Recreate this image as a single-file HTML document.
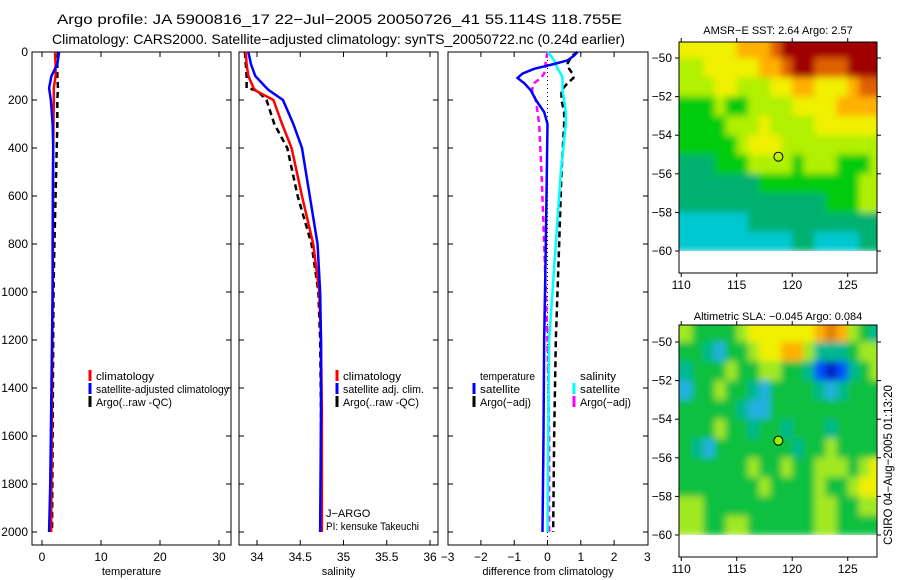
<!DOCTYPE html>
<html><head><meta charset="utf-8"><style>
body{margin:0;background:#fff}
svg{display:block;font-family:"Liberation Sans",sans-serif}
</style></head><body>
<svg id="s" width="900" height="580" viewBox="0 0 900 580">
<defs><filter id="blur" x="-5%" y="-5%" width="110%" height="110%"><feGaussianBlur stdDeviation="3.5"/></filter></defs>
<text x="57" y="24" font-size="14" textLength="565" lengthAdjust="spacingAndGlyphs">Argo profile: JA 5900816_17 22−Jul−2005 20050726_41 55.114S 118.755E</text>
<text x="52" y="44" font-size="14" textLength="573" lengthAdjust="spacingAndGlyphs">Climatology: CARS2000. Satellite−adjusted climatology: synTS_20050722.nc (0.24d earlier)</text>
<text x="778" y="34" font-size="11" text-anchor="middle">AMSR−E SST: 2.64 Argo: 2.57</text>
<text x="778" y="320" font-size="11" text-anchor="middle">Altimetric SLA: −0.045 Argo: 0.084</text>
<text transform="translate(892,465) rotate(-90)" font-size="11.5" text-anchor="middle">CSIRO 04−Aug−2005 01:13:20</text>
</svg>
<script>
// ---- data ----
const tDepth=[0,50,100,150,200,300,400,600,800,1000,1200,1400,1600,1800,2000];
const tClim=[2.2,2.3,2.3,2.0,2.0,1.95,1.9,1.85,1.85,1.8,1.75,1.7,1.65,1.6,1.55];
const tSat=[2.9,2.6,1.6,1.2,1.5,1.8,1.9,1.85,1.8,1.8,1.7,1.6,1.5,1.4,1.2];
const tArgo=[2.7,2.6,2.6,2.7,2.6,2.6,2.5,2.3,2.1,1.95,1.9,1.85,1.8,1.75,1.7];
const sDepth=[0,50,100,150,160,200,300,400,600,800,1000,1200,1500,2000];
const sClim=[33.87,33.88,33.9,33.96,33.98,34.19,34.29,34.4,34.52,34.65,34.72,34.74,34.75,34.75];
const sSat=[33.9,33.93,33.98,34.11,34.14,34.3,34.42,34.52,34.61,34.7,34.73,34.74,34.74,34.73];
const sArgo=[33.86,33.87,33.88,33.88,34.0,34.11,34.2,34.35,34.47,34.63,34.71,34.73,34.74,34.74];
const dDepth=[0,15,35,50,70,90,108,130,160,200,250,300,500,800,1200,1600,2000];
const dTempSat=[0.9,0.8,0.6,0.2,-0.4,-0.75,-0.9,-0.7,-0.5,-0.35,-0.1,0,-0.02,-0.05,-0.1,-0.12,-0.15];
const dTempArgo=[0.9,0.75,0.65,0.6,0.65,0.75,0.78,0.6,0.42,0.42,0.5,0.5,0.42,0.35,0.25,0.2,0.17];
const dSalSat=[0,0.1,0.2,0.25,0.3,0.4,0.45,0.45,0.45,0.5,0.55,0.55,0.4,0.25,0.05,0.02,0];
const dSalArgo=[0,-0.02,-0.05,-0.06,-0.07,-0.1,-0.2,-0.4,-0.47,-0.35,-0.3,-0.25,-0.18,-0.1,0,0.05,0.05];
const mapLon=[110,111,112,113,114,115,116,117,118,119,120,121,122,123,124,125,126,127];
const mapLat=[-49,-50,-51,-52,-53,-54,-55,-56,-57,-58,-59];
const sstGrid=[
[7,7,7,7,7,8,8,8,9,10,10,10,10,10,10,10,10,10],
[6,6,7,7,7,7,7,8,8,9,10,10,9,9,9,10,10,10],
[6,6,6,7,7,6,6,6,7,7,8,8,7,7,7,8,9,9],
[5,5,5,6,5,5,6,6,6,6,7,7,7,7,8,8,8,8],
[5,5,5,5,6,6,6,7,6,6,6,6,7,7,7,7,7,7],
[5,5,5,5,5,6,7,7,7,6,6,6,6,6,6,6,6,6],
[4,4,4,5,5,5,6,6,6,6,5,6,6,6,5,5,5,6],
[4,4,4,4,4,4,4,5,5,5,5,5,5,5,5,5,6,6],
[4,4,4,4,4,4,4,4,4,4,4,4,4,5,5,5,6,6],
[3,3,3,3,3,3,4,4,4,4,4,4,4,4,4,4,4,4],
[3,3,3,3,3,3,3,3,3,3,4,4,3,3,3,3,4,4]];
const slaGrid=[
[6,5,5,5,5,6,7,7,7,7,7,7,8,9,8,6,5,4],
[5,5,4,3,5,5,6,7,7,8,8,6,4,4,4,5,6,6],
[4,5,5,5,6,5,5,6,6,5,5,4,2,1,2,4,5,6],
[3,5,5,6,5,5,4,3,5,5,5,5,4,3,4,5,5,5],
[5,5,5,5,5,4,3,3,5,5,5,5,5,5,5,5,5,5],
[5,5,5,6,5,5,4,5,5,4,5,5,5,4,5,5,5,5],
[5,4,3,5,5,5,5,5,5,5,4,5,5,6,5,5,5,5],
[5,5,5,5,5,5,6,5,5,6,5,5,6,6,6,5,6,7],
[5,5,5,5,5,5,5,6,5,5,5,5,6,5,5,6,7,7],
[6,6,5,5,5,5,5,5,5,5,5,5,6,6,5,5,6,6],
[6,6,5,5,6,6,5,5,5,5,5,5,6,6,5,5,5,5]];
const floatPos=[118.755,-55.114];
const depthTicks=[0,200,400,600,800,1000,1200,1400,1600,1800,2000];
const tTicks=[0,10,20,30];
const sTicks=[34,34.5,35,35.5,36];
const sTickLabels=["34","34.5","35","35.5","36"];
const dTicks=[-3,-2,-1,0,1,2,3];
const lonTicks=[110,115,120,125];
const latTicks=[-50,-52,-54,-56,-58,-60];
const palette=["#00008f","#0000ff","#0060ff","#00c8d0","#00b070","#00cc10","#b0f000","#f0f000","#ffb000","#e06000","#a00000"];
const slaPalette=["#00008f","#0020c0","#0050ff","#20b0e0","#00b890","#10c040","#a0e820","#f0f000","#ffb000","#e08000","#a00000"];

const S=document.getElementById('s');const NS="http://www.w3.org/2000/svg";
function mk(t,a,p){const e=document.createElementNS(NS,t);for(const k in a)e.setAttribute(k,a[k]);(p||S).appendChild(e);return e;}
const yD=d=>52+d*0.24;
function panel(name,x0,x1,fx,ticks,labels,xlabel,showY){
  const g=mk('g',{});
  
  
  mk('rect',{x:x0,y:52,width:x1-x0,height:493,fill:'none',stroke:'#000','stroke-width':1},g);
  ticks.forEach((v,i)=>{const x=fx(v);
    if(x>x0+1&&x<x1-1){mk('line',{x1:x,y1:545,x2:x,y2:540,stroke:'#000'},g);mk('line',{x1:x,y1:52,x2:x,y2:57,stroke:'#000'},g);}
    const t=mk('text',{x:x,y:561,'font-size':12,'text-anchor':'middle'},g);t.textContent=labels[i];
    });
  depthTicks.forEach(d=>{const y=yD(d);
    mk('line',{x1:x0,y1:y,x2:x0+5,y2:y,stroke:'#000'},g);mk('line',{x1:x1,y1:y,x2:x1-5,y2:y,stroke:'#000'},g);
    if(showY){const t=mk('text',{x:x0-4,y:y+4,'font-size':12,'text-anchor':'end'},g);t.textContent=d;
    }});
  const xl=mk('text',{x:(x0+x1)/2,y:575,'font-size':11,'text-anchor':'middle'},g);xl.textContent=xlabel;
  
  return g;}
function line(g,name,depths,vals,fx,color,dash,w){
  const p=mk('polyline',{points:depths.map((d,i)=>fx(vals[i])+','+yD(d)).join(' '),fill:'none',stroke:color,'stroke-width':w||2.5,'stroke-dasharray':dash||'none'},g);
  }
function legend(g,x,y,color,text,len){
  if(color){const l=mk('line',{x1:x,y1:y-10,x2:x,y2:y+1,stroke:color,'stroke-width':3},g);}
  const a={x:x+6,y:y,'font-size':11};
  if(len){a.textLength=len;a.lengthAdjust='spacingAndGlyphs';}
  const t=mk('text',a,g);t.textContent=text;
  }
// temperature
const fT=v=>42+v*5.9;
const g1=panel('temperature-panel',32,231,fT,tTicks,tTicks.map(String),'temperature',true);
line(g1,'temp-argo-line',tDepth,tArgo,fT,'#000','6,4');
line(g1,'temp-climatology-line',tDepth,tClim,fT,'#f00');
line(g1,'temp-satellite-line',tDepth,tSat,fT,'#00f');
legend(g1,90,380,'#f00','climatology',58);legend(g1,90,393,'#00f','satellite-adjusted climatology',133);legend(g1,90,406,'#000','Argo(..raw -QC)',76);
// salinity
const fS=v=>257+(v-34)*86.5;
const g2=panel('salinity-panel',239,438,fS,sTicks,sTickLabels,'salinity',false);
line(g2,'sal-argo-line',sDepth,sArgo,fS,'#000','6,4');
line(g2,'sal-climatology-line',sDepth,sClim,fS,'#f00');
line(g2,'sal-satellite-line',sDepth,sSat,fS,'#00f');
legend(g2,337,380,'#f00','climatology',58);legend(g2,337,393,'#00f','satellite adj. clim.',81);legend(g2,337,406,'#000','Argo(..raw -QC)',76);
legend(g2,320,517,null,'J−ARGO');legend(g2,320,530,null,'PI: kensuke Takeuchi',93);
// difference
const fD=v=>547.5+v*33.3;
const g3=panel('difference-panel',448,648,fD,dTicks,dTicks.map(v=>v<0?'−'+(-v):String(v)),'difference from climatology',false);
const z=mk('line',{x1:fD(0),y1:52,x2:fD(0),y2:545,stroke:'#000','stroke-dasharray':'1,3'},g3);
line(g3,'temp-argo-diff-line',dDepth,dTempArgo,fD,'#000','6,4');
line(g3,'sal-argo-diff-line',dDepth,dSalArgo,fD,'#f0f','6,4');
line(g3,'sal-satellite-diff-line',dDepth,dSalSat,fD,'#0ff');
line(g3,'temp-satellite-diff-line',dDepth,dTempSat,fD,'#00f');
legend(g3,474,380,null,'temperature',55);legend(g3,474,393,'#00f','satellite',40);legend(g3,474,406,'#000','Argo(−adj)',51);
legend(g3,574,380,null,'salinity',36);legend(g3,574,393,'#0ff','satellite',40);legend(g3,574,406,'#f0f','Argo(−adj)',51);
// maps
function map(name,top,bottom,latTop,grid,pal,filled){
  const g=mk('g',{});
  
  const fx=lon=>679+(lon-109.8)*11.1, fy=lat=>top+(latTop-lat)*19.3;
  const cid='clip'+name;const cp=mk('clipPath',{id:cid},g);mk('rect',{x:679,y:top,width:198,height:bottom-top},cp);
  const outer=mk('g',{'clip-path':'url(#'+cid+')'},g);
  const cg=mk('g',{filter:'url(#blur)'},outer);
  grid.forEach((row,r)=>row.forEach((v,c)=>{
    let x=fx(mapLon[c]),y=fy(mapLat[r]);
    let w=fx(mapLon[c]+1)-x+0.5,h=19.8;
    if(c===0){x-=12;w+=12;} if(c===row.length-1){w+=12;} if(r===0){y-=12;h+=12;}
    const e=mk('rect',{x:x,y:y,width:w,height:h,fill:pal[v]},cg);
    }));
  mk('rect',{x:679,y:fy(-60),width:198,height:bottom-fy(-60),fill:'#fff'},outer);
  mk('rect',{x:679,y:top,width:198,height:bottom-top,fill:'none',stroke:'#000'},g);
  lonTicks.forEach(l=>{const x=fx(l);mk('line',{x1:x,y1:top,x2:x,y2:top-4,stroke:'#000'},g);mk('line',{x1:x,y1:bottom,x2:x,y2:bottom+4,stroke:'#000'},g);
    const t=mk('text',{x:x,y:bottom+16,'font-size':12,'text-anchor':'middle'},g);t.textContent=l;});
  latTicks.forEach(l=>{const y=fy(l);mk('line',{x1:679,y1:y,x2:675,y2:y,stroke:'#000'},g);mk('line',{x1:877,y1:y,x2:881,y2:y,stroke:'#000'},g);
    const t=mk('text',{x:672,y:y+4,'font-size':12,'text-anchor':'end'},g);t.textContent='−'+(-l);});
  const m=mk('circle',{cx:fx(floatPos[0]),cy:fy(floatPos[1]),r:4.5,fill:filled?'#a0f000':'none',stroke:'#000','stroke-width':1},g);
  }
map('sst-map',42,273,-49.17,sstGrid,palette,false);
map('sla-map',325,557,-49.12,slaGrid,slaPalette,true);
</script>
</body></html>
